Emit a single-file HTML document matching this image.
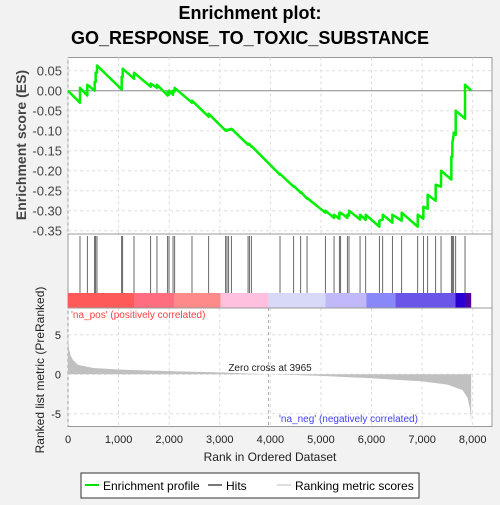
<!DOCTYPE html>
<html><head><meta charset="utf-8"><style>
body{margin:0;background:#f2f2f2;font-family:"Liberation Sans",sans-serif}
</style></head><body>
<svg id="c" width="500" height="500" xmlns="http://www.w3.org/2000/svg" font-family="Liberation Sans, DejaVu Sans, sans-serif">
<rect width="500" height="500" fill="#f2f2f2"/>
<text x="250" y="19" text-anchor="middle" font-size="18" font-weight="bold">Enrichment plot:</text>
<text x="250" y="44" text-anchor="middle" font-size="18" font-weight="bold">GO_RESPONSE_TO_TOXIC_SUBSTANCE</text>
<rect x="68" y="57.5" width="424" height="369" fill="#fff" stroke="#999"/>
<g id="grid"></g>
<g id="marks"></g>
<line x1="68" y1="234" x2="492" y2="234" stroke="#999"/>
<line x1="68" y1="308" x2="492" y2="308" stroke="#999"/>
<text x="26" y="145" transform="rotate(-90 26 145)" text-anchor="middle" font-size="14" font-weight="bold" fill="#444">Enrichment score (ES)</text>
<text x="44" y="370" transform="rotate(-90 44 370)" text-anchor="middle" font-size="12" fill="#222">Ranked list metric (PreRanked)</text>
<text x="71" y="318" font-size="10" fill="#ff4040">'na_pos' (positively correlated)</text>
<text x="279" y="422" font-size="10" fill="#4040ff">'na_neg' (negatively correlated)</text>
<text x="270" y="371" text-anchor="middle" font-size="10" fill="#222">Zero cross at 3965</text>
<text x="270" y="461" text-anchor="middle" font-size="12" fill="#222">Rank in Ordered Dataset</text>
<g>
<rect x="81" y="473" width="338" height="25" fill="#fff" stroke="#333"/>
<line x1="85" y1="485" x2="99" y2="485" stroke="#00e000" stroke-width="2"/>
<text x="103" y="490" font-size="12">Enrichment profile</text>
<line x1="208" y1="485" x2="222" y2="485" stroke="#777" stroke-width="2"/>
<text x="226" y="490" font-size="12">Hits</text>
<line x1="277" y1="485" x2="291" y2="485" stroke="#ddd" stroke-width="2"/>
<text x="295" y="490" font-size="12">Ranking metric scores</text>
</g>
</svg>
<script>
const hitRanks=[237,382,527,547,573,1061,1081,1305,1634,1759,1970,1997,2076,2109,2451,2781,3117,3143,3176,3229,3559,3585,3624,4191,4461,4600,4725,5087,5259,5364,5390,5522,5555,5773,5885,6155,6221,6412,6596,6913,7025,7110,7268,7374,7578,7598,7624,7664,7848];
const esBefore=[-0.030,-0.012,0.0,0.022,0.045,0.003,0.035,0.030,0.010,0.007,-0.012,-0.010,-0.010,-0.002,-0.030,-0.065,-0.100,-0.100,-0.098,-0.097,-0.135,-0.134,-0.140,-0.210,-0.240,-0.255,-0.270,-0.305,-0.318,-0.320,-0.308,-0.318,-0.312,-0.322,-0.323,-0.340,-0.322,-0.330,-0.325,-0.340,-0.320,-0.295,-0.275,-0.240,-0.222,-0.165,-0.110,-0.110,-0.070];
const esAfter=[0.007,0.015,0.022,0.045,0.063,0.035,0.055,0.045,0.018,0.015,-0.003,0.000,0.000,0.007,-0.025,-0.058,-0.097,-0.098,-0.097,-0.095,-0.132,-0.133,-0.138,-0.208,-0.238,-0.253,-0.268,-0.300,-0.310,-0.305,-0.305,-0.310,-0.300,-0.310,-0.310,-0.325,-0.310,-0.310,-0.305,-0.310,-0.290,-0.260,-0.235,-0.200,-0.165,-0.130,-0.105,-0.050,0.015];
const totalRanks=7970;
const esTicks=[0.05,0,-0.05,-0.1,-0.15,-0.2,-0.25,-0.3,-0.35];
const xTicks=[0,1000,2000,3000,4000,5000,6000,7000,8000];
const metricTicks=[5,0,-5];
const metricRanks=[0,20,50,100,200,500,1000,2000,3000,3965,5000,6000,7000,7500,7800,7900,7950,7970];
const metricVals=[5,3.2,2.4,1.8,1.2,0.8,0.6,0.4,0.25,0,-0.2,-0.5,-0.9,-1.3,-2,-3,-4.5,-6];
const barStops=[0,1305,2109,3017,3965,5087,5896,6470,7660,7848,7970];
const barColors=['#ff5a5a','#ff6e80','#ff8a8a','#ffc0e0','#d8d8f8','#c0b8f8','#8888f8','#6a55e8','#2a00d0','#5000a0'];
const NS='http://www.w3.org/2000/svg';
const X=r=>68+r*(404.7/8000);
const YE=v=>90.7-v*400;
const YM=v=>374.3-v*7.9;
const svg=document.getElementById('c'),grid=document.getElementById('grid'),marks=document.getElementById('marks');
function mk(tag,at,parent){const e=document.createElementNS(NS,tag);for(const k in at)e.setAttribute(k,at[k]);(parent||marks).appendChild(e);return e;}
xTicks.forEach(t=>{
 const l1=mk('line',{x1:X(t),x2:X(t),y1:57.5,y2:234,stroke:'#ddd','stroke-dasharray':'3,3'},grid);
 
 const l2=mk('line',{x1:X(t),x2:X(t),y1:308,y2:426.5,stroke:'#ddd','stroke-dasharray':'3,3'},grid);
 
 const tx=mk('text',{x:X(t),y:443,'text-anchor':'middle','font-size':'11',fill:'#222'},svg);
 tx.textContent=t.toLocaleString('en-US');
 
});
esTicks.forEach(t=>{
 const l=mk('line',{x1:68,x2:492,y1:YE(t),y2:YE(t),stroke:t===0?'#888':'#ddd','stroke-dasharray':t===0?'':'3,3'},grid);
 
 const tx=mk('text',{x:62,y:YE(t)+5,'text-anchor':'end','font-size':'13',fill:'#444'},svg);
 tx.textContent=t.toFixed(2);
 
});
metricTicks.forEach(t=>{
 const l=mk('line',{x1:68,x2:492,y1:YM(t),y2:YM(t),stroke:'#ddd','stroke-dasharray':'3,3'},grid);
 
 const tx=mk('text',{x:61,y:YM(t)+4,'text-anchor':'end','font-size':'11',fill:'#222'},svg);
 tx.textContent=t;
 
});
barColors.forEach((c,i)=>{
 const r=mk('rect',{x:X(barStops[i]),y:293,width:X(barStops[i+1])-X(barStops[i]),height:15,fill:c});
 
});
let d='M'+X(0)+','+YM(0);
metricRanks.forEach((r,i)=>{d+=' L'+X(r)+','+YM(metricVals[i]);});
d+=' L'+X(totalRanks)+','+YM(0)+' Z';
const area=mk('path',{d:d,fill:'#c0c0c0'});

const zl=mk('line',{x1:X(3965),x2:X(3965),y1:308,y2:426,stroke:'#aaa','stroke-dasharray':'3,3'});

hitRanks.forEach(r=>{
 const l=mk('line',{x1:X(r),x2:X(r),y1:236,y2:293,stroke:'#444','stroke-width':'0.8'});
 
});
let pts=[[0,0]];
hitRanks.forEach((r,i)=>{pts.push([r,esBefore[i]]);pts.push([r,esAfter[i]]);});
pts.push([totalRanks,0]);
const pl=mk('polyline',{points:pts.map(p=>X(p[0])+','+YE(p[1])).join(' '),fill:'none',stroke:'#00f000','stroke-width':'2.5','stroke-linejoin':'round'});

</script>
</body></html>
